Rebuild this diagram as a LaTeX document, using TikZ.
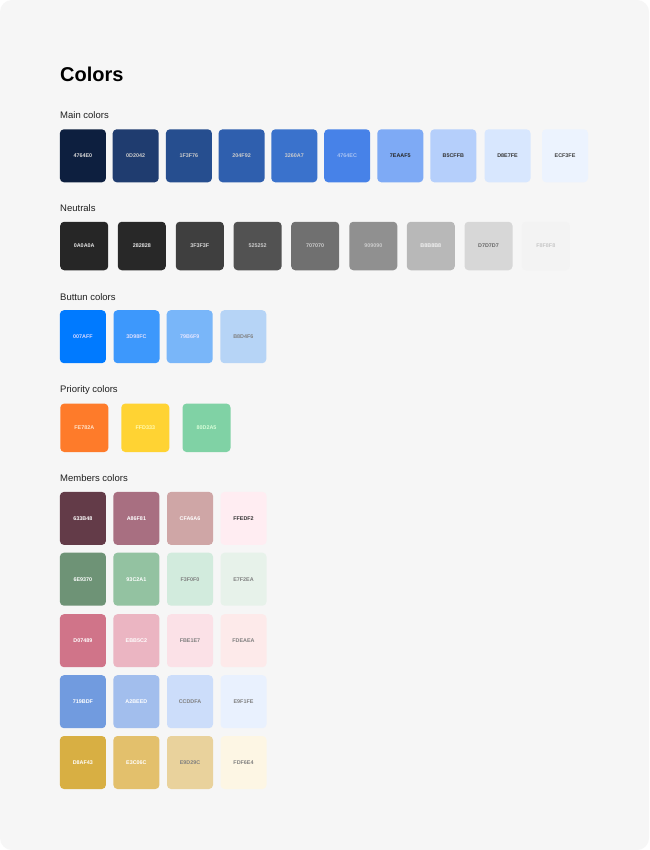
\documentclass[tikz,border=0pt]{standalone}
\usepackage{fontspec}
\setmainfont{Liberation Sans}
\begin{document}
\begin{tikzpicture}[x=1pt,y=-1pt,
  title/.style={anchor=base west,font=\fontsize{20}{22}\selectfont\bfseries,text=black,inner sep=0pt},
  section/.style={anchor=west,font=\fontsize{9.5}{11}\selectfont,text=black!88,inner sep=0pt},
  swatch/.style={draw=none,rounded corners=4pt,inner sep=0pt,
    font=\fontsize{5.4}{6}\selectfont\bfseries},
  sw/.style n args={4}{swatch,fill=#1,text=#2,minimum width=#3,minimum height=#4}]
\definecolor{cardbg}{HTML}{F6F6F6}
\definecolor{paleblue}{HTML}{A9C3F2}
\useasboundingbox (0,0) rectangle (649,850);
\fill[white] (0,0) rectangle (649,850);
\fill[cardbg, rounded corners=12pt] (0,0) rectangle (649,850);

\node[title] (title) at (60,81.5) {Colors};

% Main colors
\node[section] (lmain) at (60,115) {Main colors};
\foreach \x/\fc/\tc/\lab [count=\i] in {
  82.9/0D1F3F/white!85!black/4764E0, 135.7/1F3C6F/white!80!black/0D2042,
  188.9/264E8F/white!80!black/1F3F76, 241.6/2F5FAE/white!80!black/204F92,
  294.3/3A72CC/white!80!black/3260A7, 347.2/4782E8/paleblue/4764EC,
  400.3/7EAAF5/black!85/7EAAF5, 453.3/B5CFFB/black!80/B5CFFB,
  507.5/D8E7FE/black!80/D8E7FE, 565/ECF3FE/black!75/ECF3FE} {
  \definecolor{fc}{HTML}{\fc}
  \node[sw={fc}{\tc}{46pt}{53pt}] (main\i) at (\x,155.8) {\lab};
}

% Neutrals
\node[section] (lneu) at (60,208) {Neutrals};
\foreach \x/\fc/\tc/\lab [count=\i] in {
  84.2/262626/white!90!black/0A0A0A, 141.8/282828/white!90!black/282828,
  199.8/3F3F3F/white!85!black/3F3F3F, 257.6/525252/white!80!black/525252,
  315.2/707070/white!80!black/707070, 373.3/909090/white!80!black/909090,
  430.8/B8B8B8/white!95!black/B8B8B8, 488.5/D7D7D7/black!60/D7D7D7,
  545.8/F3F3F3/black!22/F8F8F8} {
  \definecolor{fc}{HTML}{\fc}
  \node[sw={fc}{\tc}{48pt}{48.5pt}] (neu\i) at (\x,246) {\lab};
}

% Button colors
\node[section] (lbtn) at (60,297) {Buttun colors};
\foreach \x/\fc/\tc/\lab [count=\i] in {
  82.9/007AFF/white!85!blue/007AFF, 136.5/3D98FC/white!88!blue/3D98FC,
  189.7/79B6F9/white!90!blue/79B6F9, 243.3/B6D4F6/black!50/B8D4F6} {
  \definecolor{fc}{HTML}{\fc}
  \node[sw={fc}{\tc}{46pt}{53pt}] (btn\i) at (\x,336.7) {\lab};
}

% Priority colors
\node[section] (lpri) at (60,390) {Priority colors};
\foreach \x/\fc/\tc/\lab [count=\i] in {
  84.3/FE7B2A/white!80!orange/FE782A, 145.3/FFD333/white!70!yellow/FFD333,
  206.5/80D2A5/white!85!green/80D2A5} {
  \definecolor{fc}{HTML}{\fc}
  \node[sw={fc}{\tc}{48pt}{48.5pt}] (pri\i) at (\x,427.8) {\lab};
}

% Members colors
\node[section] (lmem) at (60,478) {Members colors};
\foreach \y/\la/\ca/\ta/\lb/\cb/\tb/\lc/\cc/\tc/\ld/\cd/\td [count=\r] in {
  518.4/633B48/633B48/white!85/A86F81/A86F81/white!90/CFA6A6/CFA6A6/white!90/FFEDF2/FFEDF2/black!80,
  579.2/6E9370/6E9376/white!85/93C2A1/93C2A1/white!90/F3F0F0/D2EBDD/black!50/E7F2EA/E7F2EA/black!50,
  640.7/D07489/D07489/white!90/EBB5C2/EBB5C2/white!95/FBE1E7/FBE1E7/black!50/FDEAEA/FDEAEA/black!50,
  701.7/719BDF/719BDF/white!95/A2BEED/A2BEED/white!95/CCDDFA/CCDDFA/black!50/E9F1FE/E9F1FE/black!50,
  762.5/D8AF43/D8AF43/white!90/E3C06C/E3C06C/white!95/E9D29C/E9D29C/black!50/FDF6E4/FDF6E4/black!50} {
  \definecolor{ca}{HTML}{\ca}\definecolor{cb}{HTML}{\cb}
  \definecolor{cc}{HTML}{\cc}\definecolor{cd}{HTML}{\cd}
  \node[sw={ca}{\ta}{46pt}{53pt}] (mem\r a) at (82.9,\y) {\la};
  \node[sw={cb}{\tb}{46pt}{53pt}] (mem\r b) at (136.4,\y) {\lb};
  \node[sw={cc}{\tc}{46pt}{53pt}] (mem\r c) at (190,\y) {\lc};
  \node[sw={cd}{\td}{46pt}{53pt}] (mem\r d) at (243.5,\y) {\ld};
}
\end{tikzpicture}
\end{document}
